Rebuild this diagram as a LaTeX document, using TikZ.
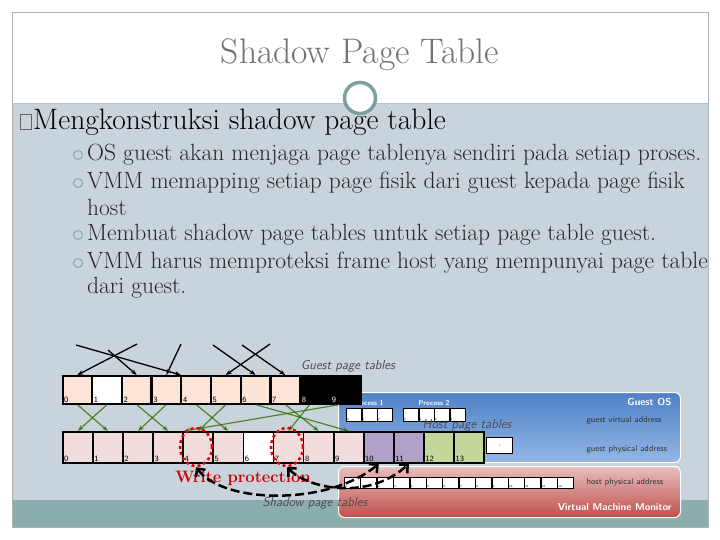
\documentclass[tikz,border=0pt]{standalone}
\usetikzlibrary{arrows.meta,shapes.geometric}
\definecolor{peach}{RGB}{252,228,214}
\definecolor{pinkc}{RGB}{242,220,219}
\definecolor{purp}{RGB}{177,160,199}
\definecolor{grn}{RGB}{196,215,155}
\definecolor{teal}{RGB}{124,159,160}
\begin{document}
\begin{tikzpicture}[x=1pt,y=-1pt,
 cell/.style={draw=black,line width=1.6pt,minimum width=29pt,minimum height=28pt,inner sep=0pt,anchor=north west},
 num/.style={font=\sffamily\footnotesize,anchor=south west,inner sep=2pt},
 small/.style={draw=black,line width=0.9pt,fill=white,minimum width=15pt,minimum height=13pt,inner sep=0pt,anchor=north west},
 lbl/.style={font=\sffamily\fontsize{8.5}{9}\selectfont,text=black!80},
 wlbl/.style={font=\sffamily\bfseries\fontsize{10}{11}\selectfont,text=white},
 ital/.style={font=\sffamily\itshape\fontsize{13}{14}\selectfont,text=black!70},
 garr/.style={draw=green!40!black!60!olive,line width=1.2pt,-{Stealth[length=6pt]},opacity=0.8},
 barr/.style={draw=black,line width=1.3pt,-{Stealth[length=6pt]}},
 sub/.style={anchor=west,font=\fontsize{23.5}{25}\selectfont,inner sep=0pt,text=black!85}]
\useasboundingbox (0,0) rectangle (720,540);
\fill[white] (0,0) rectangle (720,540);
\fill[fill={rgb,255:red,201;green,211;blue,219}] (12,103) rectangle (708,500);
\fill[fill={rgb,255:red,139;green,173;blue,173}] (12,500) rectangle (708,527);
\draw[black!30] (12,12) rectangle (708,527);
\draw[black!25] (12,103) -- (708,103);
\node[font=\fontsize{35.5}{37}\selectfont,text=black!55] (title) at (360,55) {Shadow Page Table};
\node[circle,draw=teal,line width=3.5pt,fill=white,minimum size=31pt] (dot) at (360,98) {};
\node[draw=black!60,line width=0.6pt,minimum width=11pt,minimum height=15pt,inner sep=0pt] (bx) at (26,122) {};
\node[anchor=west,font=\fontsize{29.5}{31}\selectfont,inner sep=0pt] (b0) at (33,122) {Mengkonstruksi shadow page table};
\foreach \y/\t [count=\i] in {155/OS guest akan menjaga page tablenya sendiri pada setiap proses.,
 183/VMM memapping setiap page fisik dari guest kepada page fisik,
 207/host,
 235/Membuat shadow page tables untuk setiap page table guest.,
 263/VMM harus memproteksi frame host yang mempunyai page table,
 288/dari guest.}{
 \node[sub] (s\i) at (87,\y) {\t};}
\foreach \y/\n in {155/a,183/b,235/c,263/d}
 \node[circle,draw=teal,line width=0.8pt,minimum size=9pt,inner sep=0pt] (c\n) at (78,\y) {};
% panels
\node[draw=white,line width=1pt,rounded corners=6pt,top color={rgb,255:red,79;green,129;blue,199},bottom color={rgb,255:red,149;green,183;blue,230},minimum width=342pt,minimum height=70pt,anchor=north west] (gos) at (338,392) {};
\node[draw=white,line width=1pt,rounded corners=6pt,top color={rgb,255:red,232;green,190;blue,189},bottom color={rgb,255:red,192;green,80;blue,77},minimum width=342pt,minimum height=51pt,anchor=north west] (vmm) at (338,466) {};
\node[wlbl,anchor=east] (gostx) at (675,402) {Guest OS};
\node[wlbl,anchor=east] (vmmtx) at (675,507) {Virtual Machine Monitor};
\node[lbl,anchor=west] (gva) at (583,420) {guest virtual address};
\node[lbl,anchor=west] (gpa) at (583,449) {guest physical address};
\node[lbl,anchor=west] (hpa) at (583,482) {host physical address};
\node[font=\sffamily\bfseries\fontsize{7}{7}\selectfont,text=white] (p1) at (368,403) {Process 1};
\node[font=\sffamily\bfseries\fontsize{7}{7}\selectfont,text=white] (p2) at (434,403) {Process 2};
\foreach \i in {0,1,2}{
 \node[small] (pa\i) at (346+15.5*\i,408) {};
 \node[font=\sffamily\fontsize{3}{3}\selectfont,anchor=south west,inner sep=1pt] at (pa\i.south west) {\i};}
\foreach \i in {0,1,2,3}{
 \node[small] (pb\i) at (403+15.5*\i,408) {};
 \node[font=\sffamily\fontsize{3}{3}\selectfont,anchor=south west,inner sep=1pt] at (pb\i.south west) {\i};}
\foreach \i in {0,...,13}{
 \node[small,minimum width=16pt,minimum height=11pt] (h\i) at (344+16.4*\i,477) {};
 \node[font=\sffamily\fontsize{3}{3}\selectfont,anchor=south west,inner sep=1pt] at (h\i.south west) {\i};}
% top row
\foreach \i/\cc in {0/peach,1/white,2/peach,3/peach,4/peach,5/peach,6/peach,7/peach}{
 \node[cell,fill=\cc] (t\i) at (62+29.7*\i,375) {};
 \node[num] at (t\i.south west) {\i};}
\node[cell,fill=black,minimum width=61pt] (tb) at (299.6,375) {};
\node[num,text=white] (t8) at (tb.south west) {8};
\node[num,text=white] (t9) at ([xshift=30pt]tb.south west) {9};
\node[ital] (gpt) at (348,366) {Guest page tables};
% bottom row
\foreach \i/\cc in {0/pinkc,1/pinkc,2/pinkc,3/pinkc,4/pinkc,5/pinkc,6/white,7/pinkc,8/pinkc,9/pinkc,10/purp,11/purp,12/grn,13/grn}{
 \node[cell,fill=\cc,minimum width=30pt,minimum height=31pt] (r\i) at (62+30.1*\i,431) {};
 \node[num] at (r\i.south west) {\i};}
\node[small,minimum width=26pt,minimum height=16pt] (rx) at (486,437) {};
\node[font=\tiny] at (rx) {,};
\node[ital] (hpt) at (467,425) {Host page tables};
% black arrows
\coordinate (a1) at (76,345); \coordinate (a2) at (137,344); \coordinate (a3) at (108,350);
\coordinate (a4) at (181,344); \coordinate (a5) at (213,345); \coordinate (a6) at (270,344);
\coordinate (a7) at (242,345);
\draw[barr] (a1) -- (t4.north west);
\draw[barr] (a2) -- (t0.north);
\draw[barr] (a3) -- (t2.north);
\draw[barr] (a4) -- (t3.north);
\draw[barr] (a5) -- (t6.north);
\draw[barr] (a6) -- (t5.north);
\draw[barr] (a7) -- (t7.north);
% green arrows
\draw[garr] (t0.south) -- (r1.north);
\draw[garr] (t1.south) -- (r0.north);
\draw[garr] (t2.south) -- (r3.north);
\draw[garr] (t3.south) -- (r2.north);
\draw[garr] (t4.south) -- (r5.north);
\draw[garr] (t5.south) -- (r4.north);
\draw[garr] (t6.south) -- (r9.north);
\draw[garr] (t7.south) -- (r8.north);
\draw[garr] ([xshift=10pt]tb.south west) -- (r7.north);
\draw[garr] ([xshift=40pt]tb.south west) -- (r3.north east);
% write protection
\node[ellipse,draw=red!90!black,dashed,line width=2.5pt,minimum width=32pt,minimum height=38pt] (w4) at (196,447) {};
\node[ellipse,draw=red!90!black,dashed,line width=2.5pt,minimum width=32pt,minimum height=38pt] (w7) at (287,447) {};
\node[font=\bfseries\fontsize{16.5}{17}\selectfont,text=red!80!black] (wp) at (243,478) {Write protection};
\draw[line width=2.5pt,dash pattern=on 9pt off 4pt,{Straight Barb[length=6pt]}-{Straight Barb[length=6pt]}] (w4.south) .. controls (225,505) and (330,505) .. (r10.south);
\draw[line width=2.5pt,dash pattern=on 9pt off 4pt,{Straight Barb[length=6pt]}-{Straight Barb[length=6pt]}] (w7.south) .. controls (310,490) and (370,500) .. (r11.south);
\node[ital] (spt) at (315,503) {Shadow page tables};
\end{tikzpicture}
\end{document}
